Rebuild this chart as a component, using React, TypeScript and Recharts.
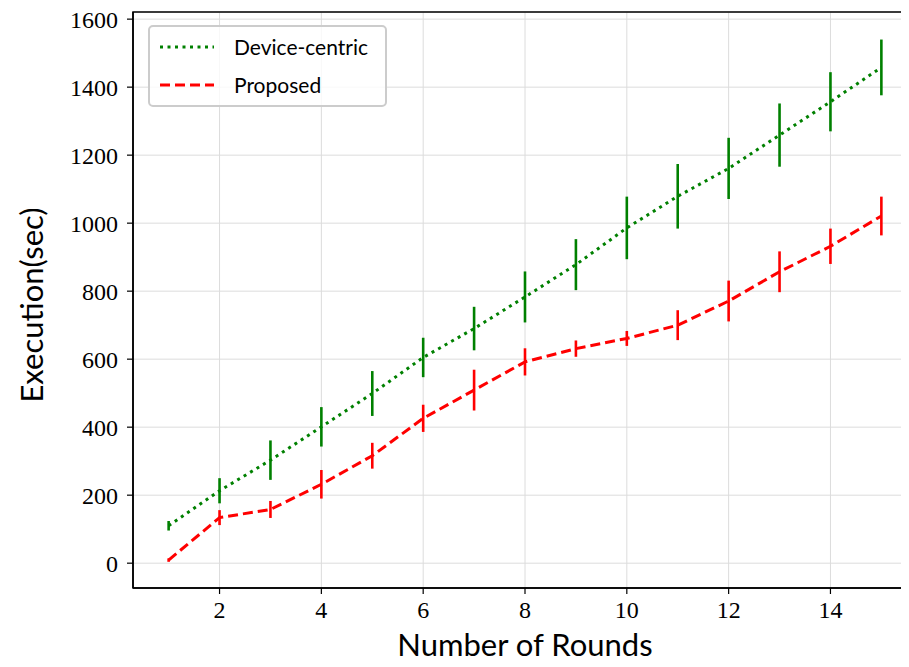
import React from 'react'
import {
  LineChart, Line, XAxis, YAxis, CartesianGrid, ErrorBar, ReferenceArea,
} from 'recharts'

const rounds = [1, 2, 3, 4, 5, 6, 7, 8, 9, 10, 11, 12, 13, 14, 15]
const deviceCentric = [110, 213, 303, 401, 499, 605, 690, 783, 878, 986, 1079, 1161, 1259, 1357, 1458]
const deviceErr = [14, 37, 58, 58, 66, 58, 64, 75, 75, 92, 95, 90, 93, 87, 82]
const proposed = [9, 134, 158, 232, 316, 426, 509, 592, 631, 661, 700, 771, 857, 932, 1021]
const proposedErr = [5, 22, 25, 42, 38, 40, 60, 40, 24, 22, 44, 60, 60, 52, 57]

const xTicks = [2, 4, 6, 8, 10, 12, 14]
const yTicks = [0, 200, 400, 600, 800, 1000, 1200, 1400, 1600]

const X_DOMAIN: [number, number] = [0.3, 15.7]
const Y_DOMAIN: [number, number] = [-73, 1621]

const GREEN = '#008000'
const RED = '#ff0000'
const SERIF = '"Liberation Serif", "DejaVu Serif", serif'
const SANS = 'Lato, "Noto Sans", sans-serif'

const data = rounds.map((r, i) => ({
  round: r,
  device: deviceCentric[i],
  deviceErr: deviceErr[i],
  proposed: proposed[i],
  proposedErr: proposedErr[i],
}))

const tickStyle = { fill: '#000', fontSize: 24, fontFamily: SERIF }

const LegendBox = () => (
  <div style={{
    position: 'absolute', left: 148, top: 25, width: 235, height: 78,
    border: '2px solid #cccccc', borderRadius: 5, background: 'rgba(255,255,255,0.8)',
    fontFamily: SANS, fontSize: 21, color: '#000',
  }}>
    <svg width={60} height={78} style={{ position: 'absolute', left: 8, top: 0 }}>
      <line x1={2} x2={56} y1={20} y2={20} stroke={GREEN} strokeWidth={3} strokeDasharray="3 4.5" />
      <line x1={2} x2={56} y1={58} y2={58} stroke={RED} strokeWidth={3} strokeDasharray="10 5" />
    </svg>
    <div style={{ position: 'absolute', left: 84, top: 6, lineHeight: '28px' }}>Device-centric</div>
    <div style={{ position: 'absolute', left: 84, top: 44, lineHeight: '28px' }}>Proposed</div>
  </div>
)

export default function App() {
  return (
    <div style={{ position: 'relative', margin: -8, width: 909, height: 667, overflow: 'hidden', background: '#fff' }}>
      <LineChart
        width={917}
        height={667}
        data={data}
        margin={{ top: 12, right: 0, left: 0, bottom: 0 }}
      >
        <CartesianGrid stroke="#dcdcdc" strokeWidth={1} />
        <XAxis
          dataKey="round"
          type="number"
          domain={X_DOMAIN}
          ticks={xTicks}
          allowDataOverflow
          height={79}
          tick={tickStyle}
          tickSize={6}
          tickMargin={7}
          axisLine={{ stroke: '#000', strokeWidth: 1.5 }}
          tickLine={{ stroke: '#000', strokeWidth: 1.2 }}
        />
        <YAxis
          type="number"
          domain={Y_DOMAIN}
          ticks={yTicks}
          allowDataOverflow
          width={133}
          tick={tickStyle}
          tickSize={6}
          tickMargin={9}
          axisLine={{ stroke: '#000', strokeWidth: 1.5 }}
          tickLine={{ stroke: '#000', strokeWidth: 1.2 }}
        />
        <ReferenceArea
          x1={X_DOMAIN[0]} x2={X_DOMAIN[1]} y1={Y_DOMAIN[0]} y2={Y_DOMAIN[1]}
          fill="none" fillOpacity={0} stroke="#000" strokeWidth={1.5} ifOverflow="visible"
        />
        <Line
          dataKey="device"
          stroke={GREEN}
          strokeWidth={3}
          strokeDasharray="3 4.5"
          dot={false}
          activeDot={false}
          isAnimationActive={false}
        >
          <ErrorBar dataKey="deviceErr" width={0} stroke={GREEN} strokeWidth={2.6} direction="y" />
        </Line>
        <Line
          dataKey="proposed"
          stroke={RED}
          strokeWidth={3}
          strokeDasharray="10 5"
          dot={false}
          activeDot={false}
          isAnimationActive={false}
        >
          <ErrorBar dataKey="proposedErr" width={0} stroke={RED} strokeWidth={2.6} direction="y" />
        </Line>
      </LineChart>
      <LegendBox />
      <div style={{
        position: 'absolute', left: 0, right: 0, top: 624, paddingLeft: 133, width: 784,
        textAlign: 'center', fontFamily: SANS, fontSize: 31, color: '#000', lineHeight: '40px',
      }}>
        Number of Rounds
      </div>
      <div style={{
        position: 'absolute', left: 31, top: 305, transform: 'translate(-50%, -50%) rotate(-90deg)',
        whiteSpace: 'nowrap', fontFamily: SANS, fontSize: 31, color: '#000', lineHeight: '40px',
      }}>
        Execution(sec)
      </div>
    </div>
  )
}
